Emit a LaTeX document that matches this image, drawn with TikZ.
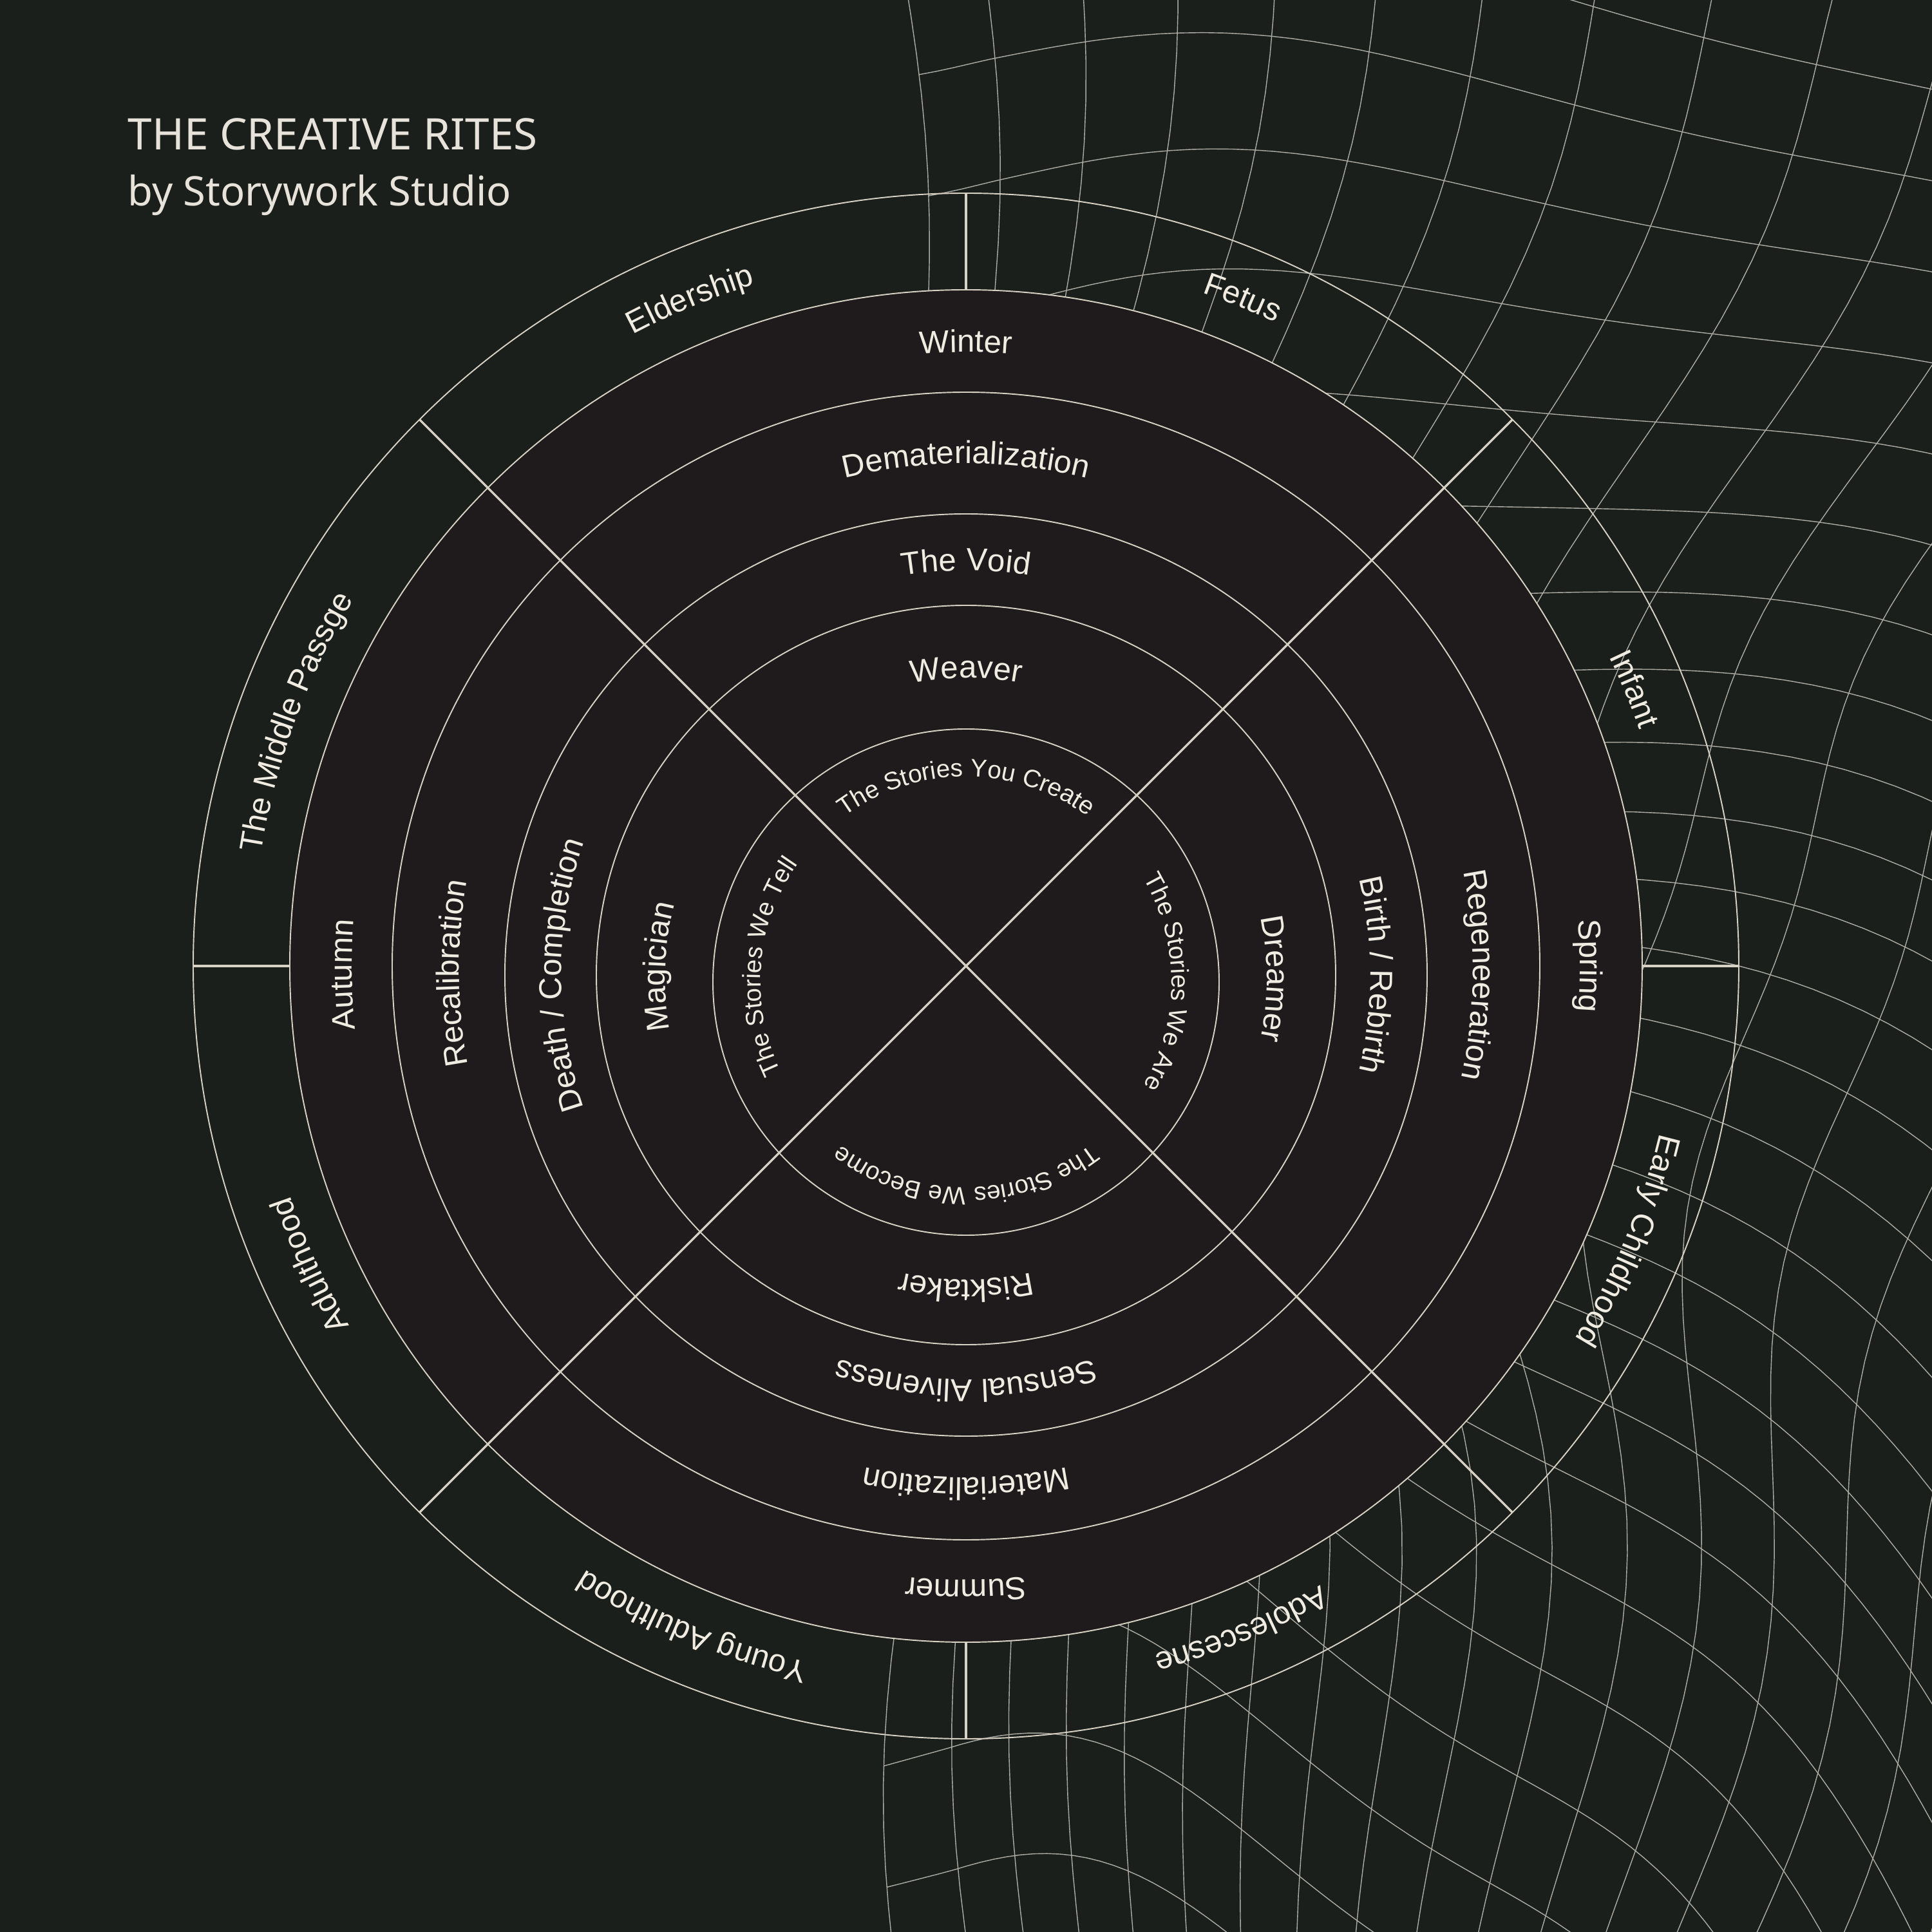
\documentclass[tikz,border=0pt]{standalone}
\usepackage{fontspec}
\setmainfont{Liberation Sans}
\newfontfamily\titlefont{Noto Sans}
\usetikzlibrary{decorations.text}

\definecolor{bgc}{HTML}{1B1F1B}
\definecolor{discc}{HTML}{1F1B1D}
\definecolor{linec}{HTML}{D6D1C3}
\definecolor{gridc}{HTML}{ADACA4}
\definecolor{ink}{HTML}{F0ECE2}

\newcommand{\ringfont}{\fontsize{14}{16}\selectfont}
\newcommand{\corefont}{\fontsize{11}{13}\selectfont}

% label on a clockwise arc: centre y, baseline radius, mid angle, font, text
\newcommand{\arclabel}[5]{%
  \path[shift={(0,#1)}, decorate,
    decoration={text along path, text align=center, text color=ink, text={|#4|#5}}]
    ({#3+70}:#2) arc[start angle={#3+70}, end angle={#3-70}, radius=#2];}

\tikzset{
  ring/.style={draw=linec, line width=0.55pt},
  spoke/.style={draw=linec, line width=1pt},
  gridline/.style={draw=gridc, line width=0.4pt},
  titletext/.style={anchor=base west, inner sep=0pt, text=ink!92!gray},
  % grid pulled in towards the wheel and swirled on its right side
  declare function={
    wr(\a,\b)=sqrt(max(\a*\a+\b*\b-100,0));
    wt(\a,\b)=atan2(\b,\a)-1.8*(sqrt(\a*\a+\b*\b)-10)*max(\a,0)/sqrt(\a*\a+\b*\b+0.01);
    wx(\a,\b)=wr(\a,\b)*cos(wt(\a,\b))+0.35*sin(deg(0.5*\b));
    wy(\a,\b)=wr(\a,\b)*sin(wt(\a,\b))+0.45*sin(deg(0.45*\a));
  }
}

\begin{document}
\begin{tikzpicture}
        \useasboundingbox (-15,-15) rectangle (15,15);
        \fill[bgc] (-15,-15) rectangle (15,15);

        % warped grid behind the wheel
        \begin{scope}
          \clip (-15,-15) rectangle (15,15);
          \foreach \u in {-1.2,0.2,...,23}
            \draw[gridline] plot[domain=-24:24, samples=97, variable=\t] ({wx(\u,\t)},{wy(\u,\t)});
          \foreach \v in {-23.25,-21.75,...,24}
            \draw[gridline] plot[domain=-1.2:23, samples=75, variable=\t] ({wx(\t,\v)},{wy(\t,\v)});
        \end{scope}

        % outer ring and dark disc
        \draw[ring] (0,0) circle (12);
        \draw[ring, fill=discc] (0,0) circle (10.5);
        \draw[ring] (0,0) circle (8.91);
        \draw[ring] (0,-0.14) circle (7.16);
        \draw[ring] (0,-0.14) circle (5.74);
        \draw[ring] (0,-0.25) circle (3.93);

        % spokes and ticks
        \draw[spoke] (45:12) -- (225:12);
        \draw[spoke] (135:12) -- (-45:12);
        \draw[spoke] (0,10.5) -- (0,12);
        \draw[spoke] (0,-10.5) -- (0,-12);
        \draw[spoke] (-10.5,0) -- (-12,0);
        \draw[spoke] (10.5,0) -- (12,0);

        % outer ring: stages of life
        \arclabel{0}{11.08}{112.5}{\ringfont}{Eldership}
        \arclabel{0}{11.08}{67.5}{\ringfont}{Fetus}
        \arclabel{0}{11.08}{22.5}{\ringfont}{Infant}
        \arclabel{0}{11.08}{-22.5}{\ringfont}{Early Childhood}
        \arclabel{0}{11.08}{-67.5}{\ringfont}{Adolescesne}
        \arclabel{0}{11.08}{-112.5}{\ringfont}{Young Adulthood}
        \arclabel{0}{11.08}{-155.5}{\ringfont}{Adulthood}
        \arclabel{0}{11.08}{160}{\ringfont}{The Middle Passge}

        % seasons
        \arclabel{0}{9.53}{90}{\ringfont}{Winter}
        \arclabel{0}{9.53}{0}{\ringfont}{Spring}
        \arclabel{0}{9.53}{-90}{\ringfont}{Summer}
        \arclabel{0}{9.53}{180.8}{\ringfont}{Autumn}

        % phases
        \arclabel{-0.07}{7.87}{90}{\ringfont}{Dematerialization}
        \arclabel{-0.07}{7.87}{-0.5}{\ringfont}{Regeneeration}
        \arclabel{-0.07}{7.87}{-90}{\ringfont}{Materialization}
        \arclabel{-0.07}{7.87}{180.3}{\ringfont}{Recalibration}

        % thresholds
        \arclabel{-0.14}{6.28}{90}{\ringfont}{The Void}
        \arclabel{-0.14}{6.28}{0}{\ringfont}{Birth / Rebirth}
        \arclabel{-0.14}{6.28}{-90}{\ringfont}{Sensual Aliveness}
        \arclabel{-0.14}{6.28}{180}{\ringfont}{Death / Completion}

        % archetypes
        \arclabel{-0.2}{4.67}{90}{\ringfont}{Weaver}
        \arclabel{-0.2}{4.67}{0}{\ringfont}{Dreamer}
        \arclabel{-0.2}{4.67}{-90}{\ringfont}{Risktaker}
        \arclabel{-0.2}{4.67}{177.7}{\ringfont}{Magician}

        % stories at the core
        \arclabel{-0.25}{3.19}{90}{\corefont}{The Stories You Create}
        \arclabel{-0.25}{3.19}{0}{\corefont}{The Stories We Are}
        \arclabel{-0.25}{3.19}{-90}{\corefont}{The Stories We Become}
        \arclabel{-0.25}{3.19}{175.4}{\corefont}{The Stories We Tell}

        % title
        \node[titletext, font=\titlefont\fontsize{19.2}{23}\selectfont] (title) at (-13.02,12.67) {THE CREATIVE RITES};
        \node[titletext, font=\titlefont\fontsize{18}{22}\selectfont] (subtitle) at (-13.02,11.8) {by Storywork Studio};
\end{tikzpicture}
\end{document}
